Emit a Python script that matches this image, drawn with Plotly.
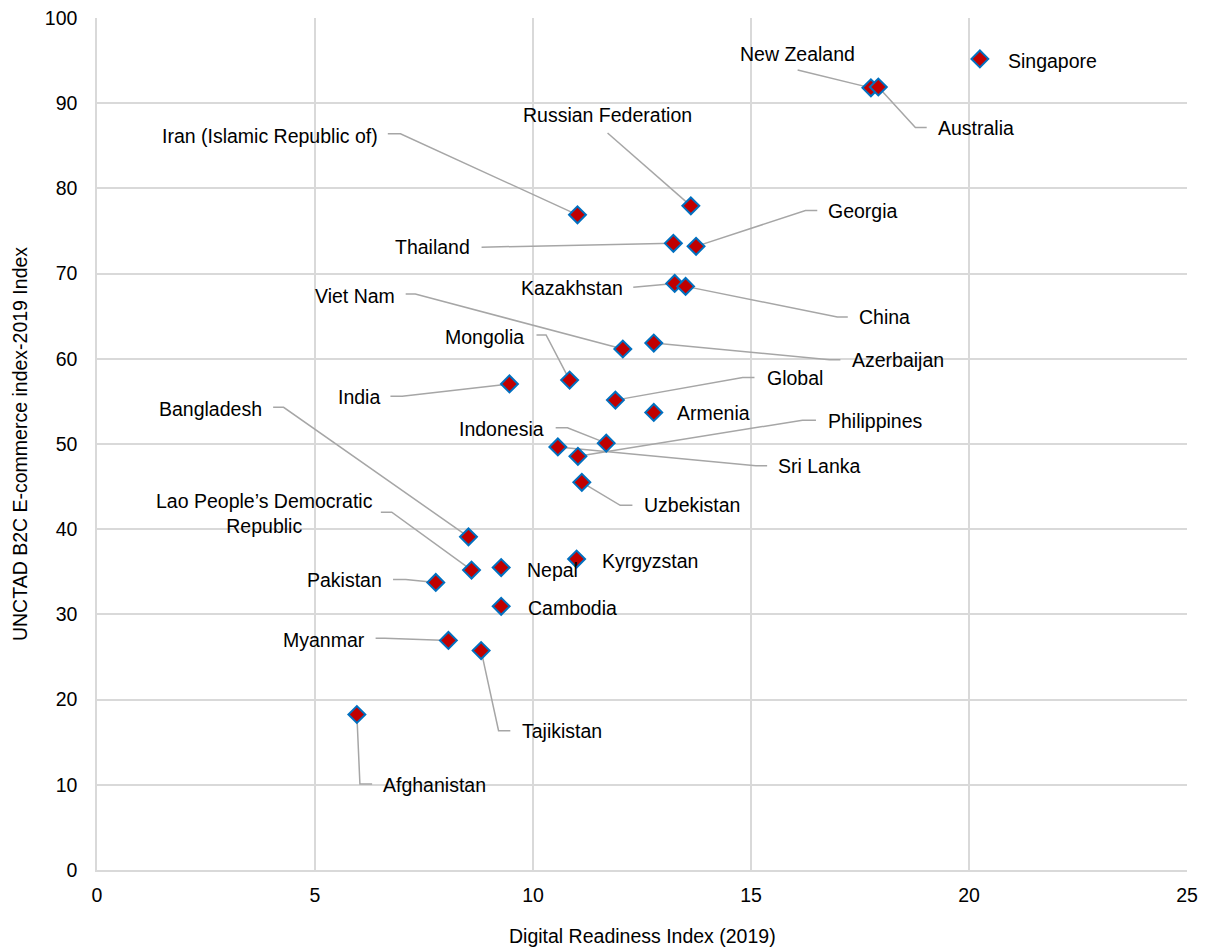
import plotly.graph_objects as go

# ---- data ----
countries = ["Singapore", "New Zealand", "Australia", "Iran (Islamic Republic of)",
             "Russian Federation", "Thailand", "Georgia", "Kazakhstan", "China",
             "Viet Nam", "Azerbaijan", "Mongolia", "India", "Global", "Armenia",
             "Indonesia", "Sri Lanka", "Philippines", "Uzbekistan", "Bangladesh",
             "Lao People’s Democratic<br>Republic", "Nepal", "Kyrgyzstan", "Pakistan",
             "Cambodia", "Myanmar", "Tajikistan", "Afghanistan"]
digital_readiness = [20.25, 17.75, 17.92, 11.02, 13.62, 13.22, 13.74, 13.25, 13.50,
                     12.06, 12.77, 10.84, 9.46, 11.89, 12.77, 11.68, 10.57, 11.03,
                     11.12, 8.52, 8.59, 9.27, 11.00, 7.77, 9.27, 8.06, 8.81, 5.96]
ecommerce_index = [95.2, 91.8, 91.9, 76.9, 77.95, 73.55, 73.2, 68.85, 68.5,
                   61.15, 61.85, 57.5, 57.05, 55.15, 53.7, 50.1, 49.65, 48.55,
                   45.5, 39.1, 35.2, 35.5, 36.5, 33.75, 30.95, 26.95, 25.75, 18.25]
x_ticks = [0, 5, 10, 15, 20, 25]
y_ticks = [0, 10, 20, 30, 40, 50, 60, 70, 80, 90, 100]

# ---- label placement (text x, text y, anchor, leader elbow points) ----
label_layout = {
    "Singapore": (20.84, 95.0, "left", []),
    "New Zealand": (16.07, 95.8, "center", [(16.07, 93.9)]),
    "Australia": (19.25, 87.14, "left", [(19.03, 87.14), (18.77, 87.14)]),
    "Iran (Islamic Republic of)": (6.49, 86.2, "right", [(6.67, 86.4), (6.96, 86.4)]),
    "Russian Federation": (11.7, 88.6, "center", [(11.71, 86.5)]),
    "Georgia": (16.73, 77.3, "left", [(16.52, 77.4), (16.25, 77.4)]),
    "Thailand": (8.6, 73.1, "right", [(8.82, 73.1)]),
    "Kazakhstan": (12.1, 68.3, "right", [(12.3, 68.4)]),
    "China": (17.44, 64.9, "left", [(17.22, 64.9), (16.98, 64.9)]),
    "Viet Nam": (6.88, 67.4, "right", [(7.08, 67.6), (7.3, 67.6)]),
    "Azerbaijan": (17.28, 59.9, "left", [(17.05, 59.9), (16.8, 59.9)]),
    "Mongolia": (9.83, 62.6, "right", [(10.08, 62.8), (10.3, 62.8)]),
    "India": (6.53, 55.5, "right", [(6.73, 55.6), (7.0, 55.6)]),
    "Global": (15.32, 57.8, "left", [(15.08, 57.8), (14.81, 57.8)]),
    "Armenia": (13.25, 53.6, "left", []),
    "Indonesia": (10.29, 51.8, "right", [(10.52, 51.9), (10.79, 51.9)]),
    "Philippines": (16.72, 52.75, "left", [(16.49, 52.8), (16.18, 52.8)]),
    "Sri Lanka": (15.58, 47.4, "left", [(15.37, 47.45), (15.11, 47.45)]),
    "Uzbekistan": (12.51, 42.8, "left", [(12.28, 42.8), (12.0, 42.8)]),
    "Bangladesh": (3.82, 54.1, "right", [(4.04, 54.3), (4.28, 54.3)]),
    "Lao People’s Democratic<br>Republic": (3.84, 41.8, "center", [(6.51, 42.0), (6.76, 42.0)]),
    "Pakistan": (6.58, 34.0, "right", [(6.79, 34.1), (7.08, 34.1)]),
    "Nepal": (9.82, 35.2, "left", []),
    "Kyrgyzstan": (11.54, 36.3, "left", []),
    "Cambodia": (9.84, 30.7, "left", []),
    "Myanmar": (6.2, 27.0, "right", [(6.39, 27.2), (6.6, 27.2)]),
    "Tajikistan": (9.71, 16.3, "left", [(9.48, 16.35), (9.21, 16.35)]),
    "Afghanistan": (6.52, 9.95, "left", [(6.31, 10.1), (6.03, 10.1)]),
}

FONT = "Liberation Sans, Arial, sans-serif"
FS = 19.5

# leader lines
lx, ly = [], []
for name, xv, yv in zip(countries, digital_readiness, ecommerce_index):
    pts = label_layout[name][3]
    if pts:
        for px, py in pts:
            lx.append(px); ly.append(py)
        lx.append(xv); ly.append(yv)
        lx.append(None); ly.append(None)

fig = go.Figure()
fig.add_trace(go.Scatter(x=lx, y=ly, mode="lines",
                         line=dict(color="#a6a6a6", width=1.5),
                         hoverinfo="skip", showlegend=False))
fig.add_trace(go.Scatter(x=digital_readiness, y=ecommerce_index, mode="markers",
                         text=countries,
                         marker=dict(symbol="diamond", size=13, color="#c00000",
                                     line=dict(color="#0070c0", width=2)),
                         showlegend=False))

for name in countries:
    tx, ty, anc, _ = label_layout[name]
    fig.add_annotation(x=tx, y=ty, text=name, showarrow=False,
                       xanchor=anc, yanchor="middle", align="center",
                       font=dict(family=FONT, size=FS, color="#000000"))

# axis titles
fig.add_annotation(xref="paper", yref="paper", x=0.5, y=-0.0775,
                   text="Digital Readiness Index (2019)", showarrow=False,
                   xanchor="center", yanchor="middle",
                   font=dict(family=FONT, size=FS, color="#000000"))
fig.add_annotation(xref="paper", yref="paper", x=-0.0706, y=0.5,
                   text="UNCTAD B2C E-commerce index-2019 Index", showarrow=False,
                   textangle=-90, xanchor="center", yanchor="middle",
                   font=dict(family=FONT, size=FS, color="#000000"))

axis_common = dict(showgrid=True, gridcolor="#d9d9d9", gridwidth=1.5,
                   showline=True, linecolor="#d9d9d9", linewidth=1.5,
                   zeroline=False, ticks="", automargin=False,
                   ticklabeloverflow="allow",
                   tickfont=dict(family=FONT, size=FS, color="#000000"))

# page body adds an 8px offset, so margins are reduced by 8px on left/top
fig.update_layout(
    width=1213, height=952,
    margin=dict(l=89, r=34, t=10, b=90),
    plot_bgcolor="white", paper_bgcolor="white",
    xaxis=dict(range=[0, 25], tickvals=x_ticks, ticklabelstandoff=7, **axis_common),
    yaxis=dict(range=[0, 100], tickvals=y_ticks, ticklabelstandoff=14, **axis_common),
)

fig.write_html("out.html")
